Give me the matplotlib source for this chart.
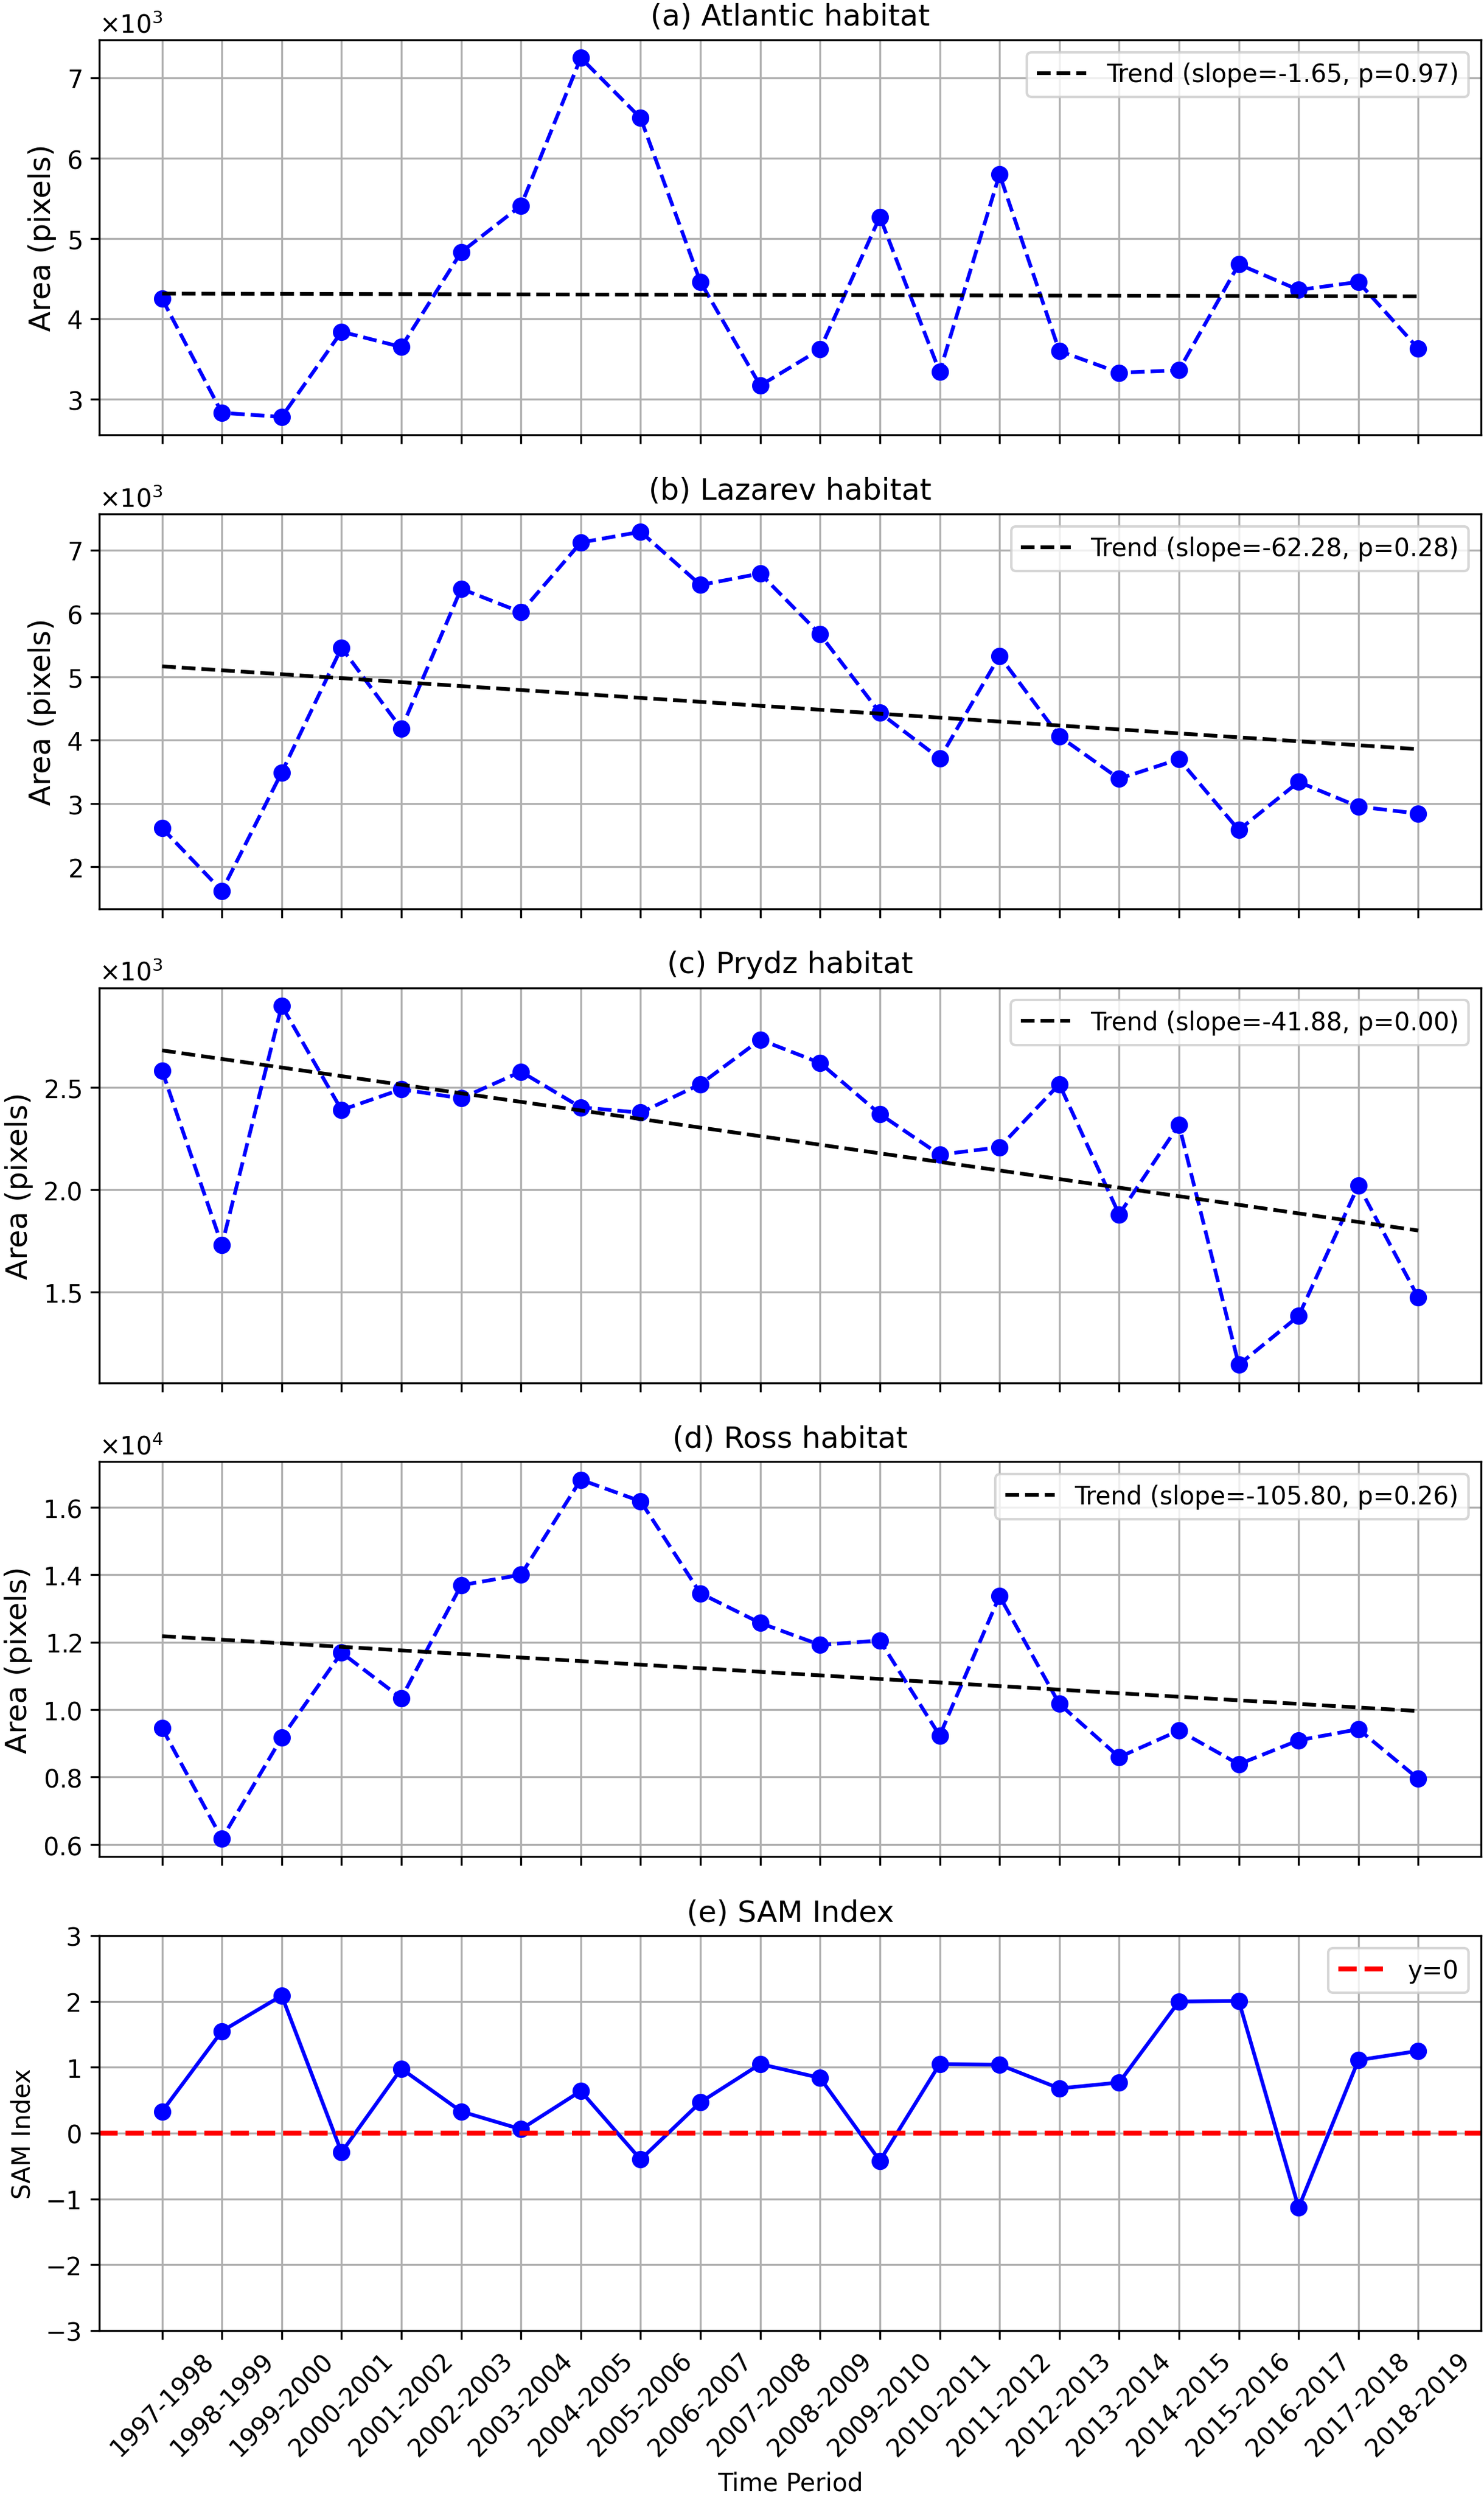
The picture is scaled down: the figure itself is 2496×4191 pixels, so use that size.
import matplotlib
matplotlib.use("Agg")
import matplotlib.pyplot as plt
import numpy as np

# time periods (x axis)
periods = ["1997-1998", "1998-1999", "1999-2000", "2000-2001", "2001-2002",
           "2002-2003", "2003-2004", "2004-2005", "2005-2006", "2006-2007",
           "2007-2008", "2008-2009", "2009-2010", "2010-2011", "2011-2012",
           "2012-2013", "2013-2014", "2014-2015", "2015-2016", "2016-2017",
           "2017-2018", "2018-2019"]

# habitat areas (pixels)
atlantic = [4250, 2830, 2780, 3840, 3650, 4830, 5410, 7250, 6500, 4460, 3170,
            3620, 5270, 3340, 5800, 3600, 3330, 3360, 4680, 4360, 4460, 3630]
lazarev = [2610, 1620, 3490, 5460, 4180, 6390, 6020, 7120, 7290, 6450, 6630,
           5670, 4430, 3710, 5330, 4060, 3390, 3700, 2580, 3340, 2950, 2840]
prydz = [2582, 1730, 2899, 2390, 2491, 2447, 2577, 2403, 2377, 2516, 2733,
         2620, 2370, 2172, 2208, 2516, 1880, 2318, 1146, 1384, 2022, 1475]
ross = [9450, 6170, 9170, 11690, 10340, 13690, 14000, 16820, 16180, 13450, 12570,
        11920, 12050, 9230, 13370, 10170, 8590, 9380, 8380, 9090, 9420, 7950]

# linear trends: slope, intercept at first period, p-value
trend_slopes = [-1.65, -62.28, -41.88, -105.80]
trend_intercepts = [4315, 5165, 2681, 12180]
trend_pvalues = [0.97, 0.28, 0.00, 0.26]

# SAM index
sam = [0.33, 1.55, 2.09, -0.29, 0.98, 0.33, 0.06, 0.64, -0.40, 0.47, 1.05,
       0.84, -0.42, 1.05, 1.04, 0.68, 0.77, 2.00, 2.01, -1.13, 1.11, 1.25]

titles = ["(a) Atlantic habitat", "(b) Lazarev habitat", "(c) Prydz habitat",
          "(d) Ross habitat", "(e) SAM Index"]

fig, axes = plt.subplots(5, 1, sharex=True, figsize=(8.32, 13.973))
fig.subplots_adjust(left=0.0669, right=0.998, bottom=0.0651, top=0.9838, hspace=0.2)

x = np.arange(len(periods))
habitats = [atlantic, lazarev, prydz, ross]

for i, values in enumerate(habitats):
    ax = axes[i]
    ax.plot(x, values, 'bo--')
    trend = trend_intercepts[i] + trend_slopes[i] * x
    ax.plot(x, trend, 'k--',
            label=f"Trend (slope={trend_slopes[i]:.2f}, p={trend_pvalues[i]:.2f})")
    ax.set_title(titles[i], fontsize=12)
    ax.set_ylabel("Area (pixels)", fontsize=12)
    ax.ticklabel_format(axis='y', style='sci', scilimits=(0, 0), useMathText=True)
    ax.grid(True)
    ax.legend(loc='upper right')

# SAM panel
ax = axes[4]
ax.plot(x, sam, 'bo-')
ax.axhline(0, color='r', linestyle='--', linewidth=2, label='y=0')
ax.set_ylim(-3, 3)
ax.set_title(titles[4], fontsize=12)
ax.set_ylabel("SAM Index")
ax.set_xlabel("Time Period")
ax.grid(True)
ax.legend(loc='upper right')
ax.set_xticks(x)
ax.set_xticklabels(periods, rotation=45)

plt.savefig("out.png", dpi=300)
plt.close()
